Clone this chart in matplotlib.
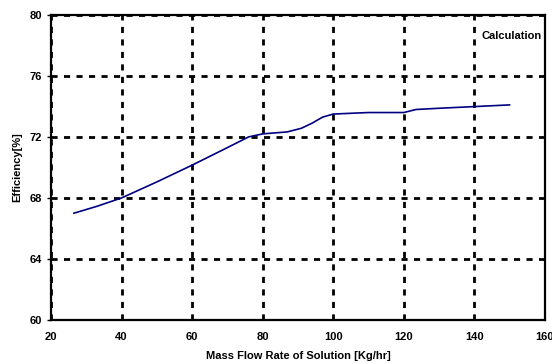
import matplotlib
matplotlib.use('Agg')
import matplotlib.pyplot as plt

flow = [26.5, 33, 40, 50, 60, 70, 76, 80, 87, 91, 94, 97, 100, 110, 120, 123.5, 130, 140, 150]
eff = [67.0, 67.45, 68.0, 69.05, 70.15, 71.3, 72.0, 72.2, 72.33, 72.57, 72.9, 73.3, 73.5, 73.6, 73.6, 73.8, 73.88, 73.99, 74.1]

xticks = [20, 40, 60, 80, 100, 120, 140, 160]
yticks = [60, 64, 68, 72, 76, 80]

plt.rcParams['font.family'] = ['Liberation Sans', 'DejaVu Sans']

fig = plt.figure(figsize=(5.52, 3.64), dpi=100)
ax = fig.add_axes([0.0924, 0.121, 0.8946, 0.838])

ax.plot(flow, eff, color='#000080', lw=1.2, zorder=3)

ax.set_xlim(20, 160)
ax.set_ylim(60, 80)
ax.set_xticks(xticks)
ax.set_yticks(yticks)
ax.grid(True, color='black', lw=2, linestyle=(0, (2.2, 2.3)))
for s in ax.spines.values():
  s.set_linewidth(1.6)
ax.tick_params(labelsize=8, width=1, length=3)
for lab in ax.get_xticklabels() + ax.get_yticklabels():
  lab.set_fontweight('bold')
ax.tick_params(axis='x', length=0, pad=9)

ax.set_xlabel('Mass Flow Rate of Solution [Kg/hr]', fontsize=8, fontweight='bold', labelpad=6)
ax.set_ylabel('Efficiency[%]', fontsize=8, fontweight='bold', labelpad=5)
ax.text(0.993, 0.93, 'Calculation', transform=ax.transAxes, ha='right', va='center',
        fontsize=8, fontweight='bold')

fig.savefig('out.png', dpi=100)
